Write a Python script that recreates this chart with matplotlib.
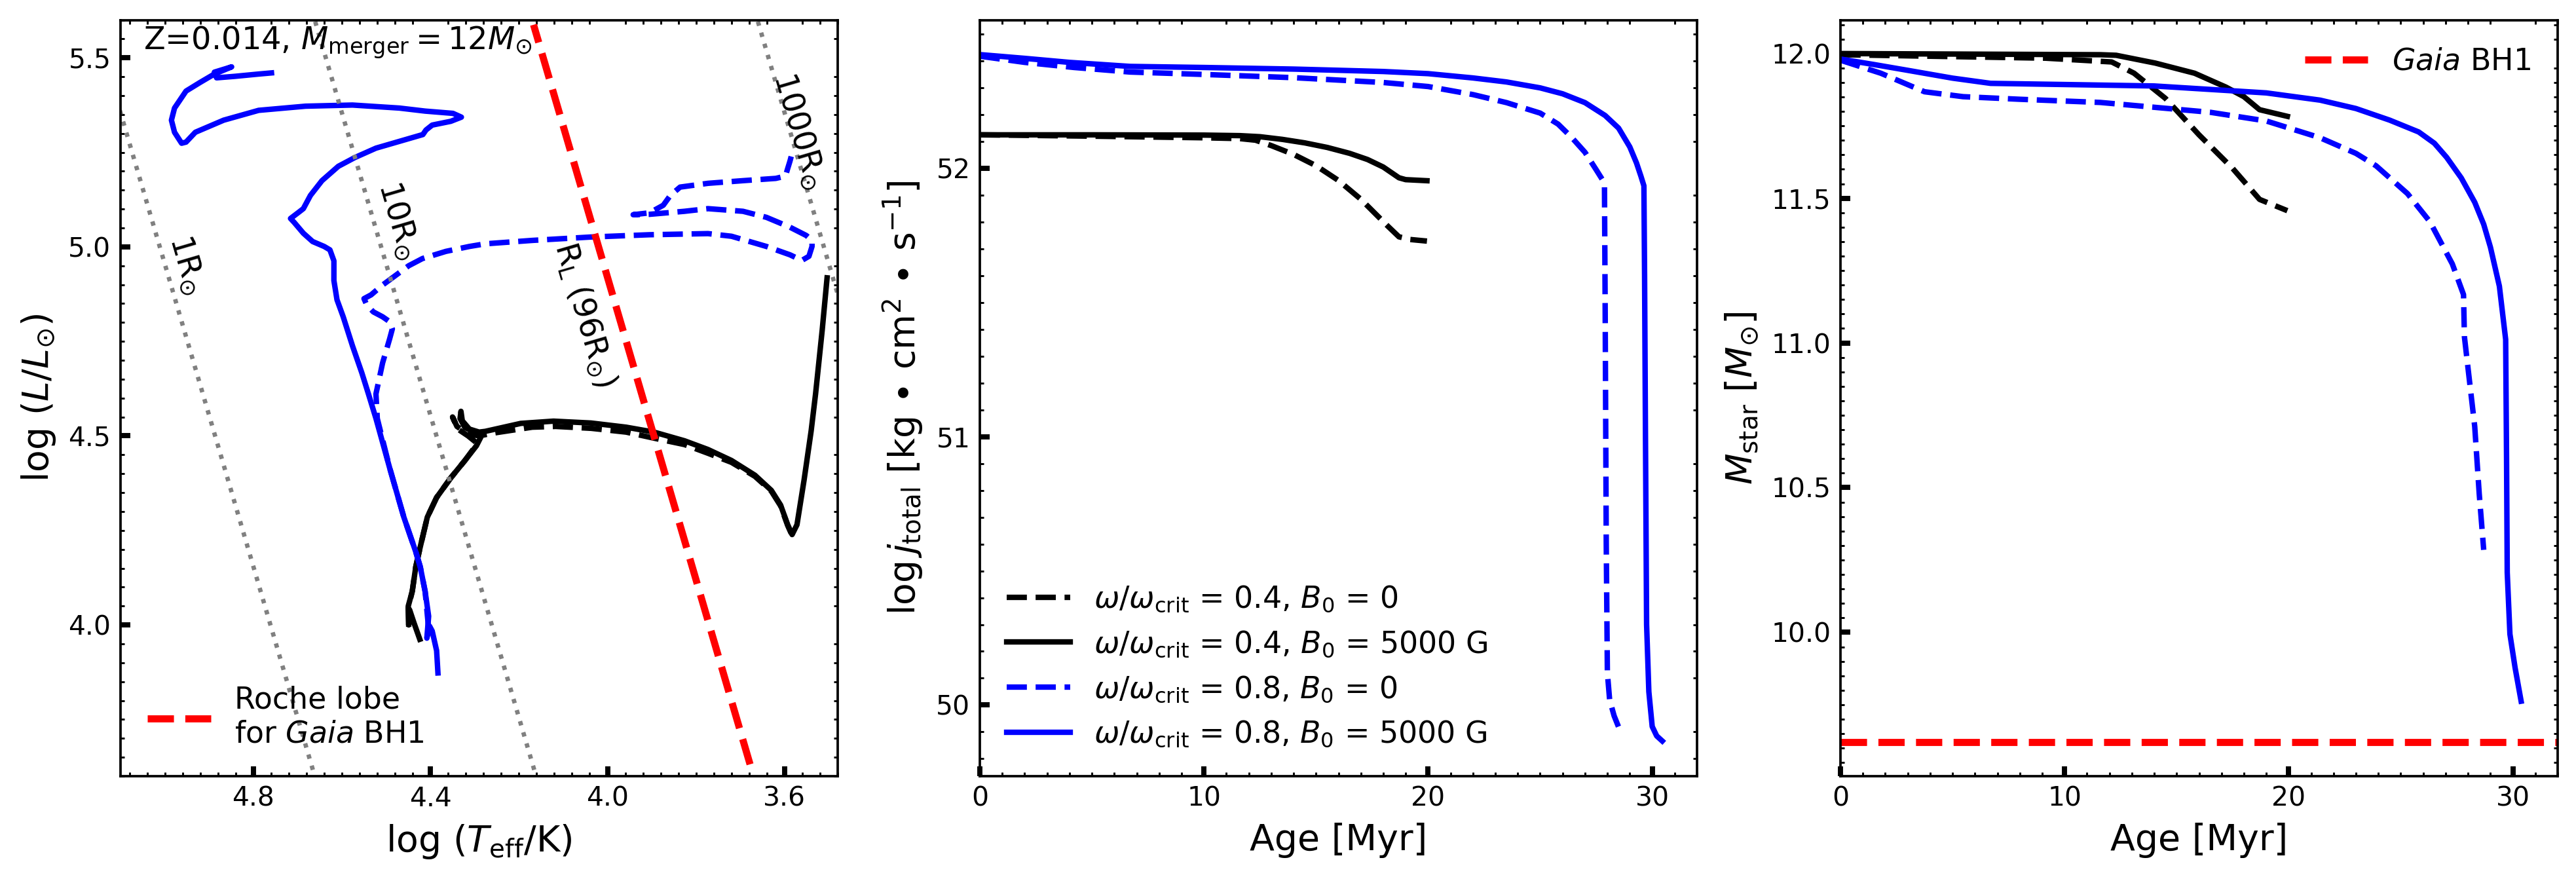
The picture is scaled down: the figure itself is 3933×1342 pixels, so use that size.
import numpy as np
import matplotlib
matplotlib.use("Agg")
import matplotlib.pyplot as plt
from matplotlib.ticker import MultipleLocator, AutoMinorLocator

# ---------------- data ----------------
# HR diagram tracks (log Teff, log L)
hr_w08_b5000_logT = [4.383, 4.386, 4.396, 4.402, 4.408, 4.404, 4.412, 4.423, 4.433, 4.460, 4.492, 4.523,
                     4.540, 4.555, 4.576, 4.597, 4.611, 4.618, 4.618, 4.627, 4.640, 4.666, 4.687, 4.708,
                     4.716, 4.698, 4.687, 4.671, 4.645, 4.608, 4.571, 4.523, 4.470, 4.417, 4.410, 4.396,
                     4.354, 4.330, 4.349, 4.412, 4.470, 4.576, 4.682, 4.788, 4.867, 4.931, 4.952, 4.962,
                     4.978, 4.985, 4.978, 4.952, 4.920, 4.888, 4.849, 4.888, 4.883, 4.841, 4.788, 4.759]
hr_w08_b5000_logL = [3.873, 3.932, 3.984, 3.997, 3.965, 4.023, 4.089, 4.154, 4.193, 4.285, 4.415, 4.546,
                     4.611, 4.667, 4.738, 4.815, 4.860, 4.911, 4.963, 4.992, 5.001, 5.014, 5.036, 5.065,
                     5.075, 5.091, 5.101, 5.136, 5.175, 5.213, 5.236, 5.261, 5.279, 5.297, 5.309, 5.322,
                     5.332, 5.343, 5.353, 5.359, 5.367, 5.375, 5.372, 5.361, 5.335, 5.303, 5.277, 5.274,
                     5.303, 5.335, 5.367, 5.412, 5.435, 5.457, 5.476, 5.462, 5.447, 5.451, 5.457, 5.460]

hr_w08_b0_logT = [4.404, 4.412, 4.423, 4.433, 4.460, 4.492, 4.520, 4.523, 4.508, 4.492, 4.486, 4.492,
                  4.508, 4.529, 4.544, 4.550, 4.534, 4.508, 4.486, 4.449, 4.418, 4.365, 4.312, 4.276,
                  4.170, 4.037, 3.905, 3.773, 3.720, 3.641, 3.588, 3.561, 3.545, 3.538, 3.538, 3.551,
                  3.588, 3.641, 3.694, 3.773, 3.826, 3.905, 3.942, 3.905, 3.874, 3.858, 3.836, 3.773,
                  3.694, 3.620, 3.598, 3.593, 3.588, 3.585]
hr_w08_b0_logL = [3.990, 4.089, 4.154, 4.193, 4.285, 4.415, 4.546, 4.611, 4.693, 4.757, 4.783, 4.802,
                  4.815, 4.828, 4.847, 4.863, 4.873, 4.899, 4.918, 4.950, 4.969, 4.988, 5.001, 5.008,
                  5.017, 5.026, 5.032, 5.035, 5.028, 5.001, 4.979, 4.964, 4.975, 5.001, 5.017, 5.030,
                  5.052, 5.078, 5.094, 5.101, 5.094, 5.086, 5.085, 5.090, 5.110, 5.136, 5.158, 5.168,
                  5.175, 5.181, 5.187, 5.207, 5.226, 5.239]

hr_w04_b5000_logT = [4.424, 4.437, 4.447, 4.449, 4.450, 4.441, 4.433, 4.423, 4.407, 4.386, 4.354, 4.322,
                     4.296, 4.286, 4.300, 4.322, 4.333, 4.331, 4.328, 4.312, 4.290, 4.276, 4.196, 4.122,
                     4.037, 3.958, 3.895, 3.826, 3.773, 3.720, 3.667, 3.630, 3.609, 3.593, 3.583, 3.572,
                     3.556, 3.540, 3.530, 3.515, 3.504]
hr_w04_b5000_logL = [3.962, 4.005, 4.040, 4.000, 4.050, 4.089, 4.154, 4.206, 4.285, 4.337, 4.389, 4.435,
                     4.474, 4.497, 4.510, 4.522, 4.546, 4.565, 4.540, 4.518, 4.510, 4.512, 4.533, 4.539,
                     4.534, 4.523, 4.510, 4.487, 4.464, 4.435, 4.396, 4.356, 4.317, 4.265, 4.239, 4.265,
                     4.383, 4.513, 4.611, 4.780, 4.918]

hr_w04_b0_logT = [4.449, 4.450, 4.441, 4.433, 4.423, 4.407, 4.386, 4.354, 4.322, 4.300, 4.296, 4.315,
                  4.338, 4.350, 4.340, 4.315, 4.290, 4.260, 4.170, 4.117, 4.037, 3.958, 3.895, 3.826,
                  3.773, 3.720, 3.667, 3.630, 3.609, 3.593, 3.585]
hr_w04_b0_logL = [3.995, 4.045, 4.089, 4.154, 4.206, 4.285, 4.337, 4.389, 4.435, 4.470, 4.482, 4.500,
                  4.518, 4.550, 4.525, 4.505, 4.500, 4.507, 4.523, 4.525, 4.520, 4.510, 4.494, 4.477,
                  4.454, 4.430, 4.393, 4.354, 4.315, 4.263, 4.242]

# iso-radius lines (R / Rsun) and Roche lobe radius of Gaia BH1
iso_radii = [1, 10, 1000]
iso_labels = [r"1R$_{\odot}$", r"10R$_{\odot}$", r"1000R$_{\odot}$"]
iso_label_pos = [(4.952, 4.953), (4.473, 5.069), (3.567, 5.306)]
roche_radius = 96
roche_logT_range = [3.678, 4.167]
roche_label_pos = (4.051, 4.821)
log_teff_sun = 3.7613

# Total angular momentum vs age
age_j_w04_b0 = [0, 5, 10, 11.6, 12.3, 13.0, 14.0, 15.0, 16.0, 17.0, 17.6, 18.2, 18.7, 19.2, 19.95]
j_w04_b0 = [52.125, 52.120, 52.114, 52.111, 52.105, 52.085, 52.052, 52.010, 51.955, 51.885, 51.835,
            51.785, 51.745, 51.735, 51.729]
age_j_w04_b5000 = [0, 5, 10, 11.6, 12.5, 13.5, 14.5, 15.5, 16.5, 17.3, 18.0, 18.7, 19.0, 19.95]
j_w04_b5000 = [52.125, 52.125, 52.124, 52.122, 52.118, 52.108, 52.095, 52.078, 52.056, 52.033, 52.005,
               51.965, 51.958, 51.954]
age_j_w08_b0 = [0, 2, 4.2, 6.7, 10, 14, 18, 20, 22, 23.5, 25, 25.8, 26.4, 27.0, 27.5, 27.8, 27.87, 27.9,
                27.95, 28.0, 28.1, 28.3, 28.63]
j_w08_b0 = [52.418, 52.395, 52.376, 52.359, 52.350, 52.338, 52.320, 52.305, 52.275, 52.245, 52.206,
            52.165, 52.116, 52.060, 51.995, 51.955, 51.938, 51.50, 50.60, 50.12, 50.02, 49.960, 49.891]
age_j_w08_b5000 = [0, 2, 4, 6.7, 10, 14, 18, 20, 22, 23.5, 25, 26, 27, 27.9, 28.5, 29.0, 29.3, 29.5,
                   29.63, 29.66, 29.7, 29.75, 29.85, 30.0, 30.2, 30.45]
j_w08_b5000 = [52.424, 52.410, 52.395, 52.380, 52.376, 52.370, 52.361, 52.353, 52.337, 52.322, 52.300,
               52.278, 52.245, 52.197, 52.150, 52.080, 52.020, 51.970, 51.935, 51.60, 51.00, 50.30,
               50.05, 49.920, 49.885, 49.866]

# Stellar mass vs age
age_m_w04_b0 = [0, 9.15, 12.1, 13.1, 14.5, 16.0, 17.5, 18.7, 19.94]
m_w04_b0 = [11.996, 11.984, 11.971, 11.932, 11.845, 11.719, 11.603, 11.496, 11.457]
age_m_w04_b5000 = [0, 11.6, 12.3, 14.05, 15.8, 17.2, 18.0, 18.7, 19.94]
m_w04_b5000 = [12.0, 11.996, 11.994, 11.967, 11.932, 11.884, 11.851, 11.806, 11.783]
age_m_w08_b0 = [0, 1.8, 3.75, 5.47, 8.0, 11.6, 16.5, 19.0, 21.4, 23.0, 23.9, 25.3, 26.3, 27.3, 27.8,
                27.84, 28.3, 28.5, 28.7]
m_w08_b0 = [11.977, 11.932, 11.868, 11.851, 11.842, 11.831, 11.797, 11.767, 11.709, 11.655, 11.612,
            11.516, 11.419, 11.273, 11.167, 11.021, 10.711, 10.479, 10.285]
age_m_w08_b5000 = [0, 1.5, 3.0, 5.0, 6.7, 10, 14.0, 19.0, 21.4, 23.0, 24.5, 25.8, 26.5, 27.05, 27.7,
                   28.3, 28.7, 29.0, 29.4, 29.68, 29.72, 29.75, 29.87, 30.1, 30.37]
m_w08_b5000 = [11.981, 11.962, 11.942, 11.915, 11.897, 11.893, 11.888, 11.864, 11.839, 11.810, 11.770,
               11.729, 11.690, 11.641, 11.570, 11.486, 11.410, 11.331, 11.196, 11.012, 10.600, 10.207,
               9.994, 9.878, 9.762]
gaia_bh1_mass = 9.62

labels = [r"$\omega/\omega_{\rm crit}$ = 0.4, $B_0$ = 0",
          r"$\omega/\omega_{\rm crit}$ = 0.4, $B_0$ = 5000 G",
          r"$\omega/\omega_{\rm crit}$ = 0.8, $B_0$ = 0",
          r"$\omega/\omega_{\rm crit}$ = 0.8, $B_0$ = 5000 G"]

# ---------------- style ----------------
W, H = 3933, 1342
DPI = 300
fig = plt.figure(figsize=(W / DPI, H / DPI), dpi=DPI)

LW = 2.0
LW_RED = 2.6
TICK_FS = 9.8
LABEL_FS = 13.3
LEG_FS = 11.0
TXT_FS = 11.5

def axpos(x0):
    return [x0 / W, (H - 1185) / H, 1095 / W, 1154.5 / H]

def style(ax):
    ax.xaxis.set_minor_locator(AutoMinorLocator(10))
    ax.yaxis.set_minor_locator(AutoMinorLocator(10))
    ax.tick_params(which='major', direction='in', top=False, right=False,
                   length=3.6, width=1.9, labelsize=TICK_FS)
    ax.tick_params(which='minor', direction='in', top=True, right=True, bottom=True, left=True,
                   length=1.5, width=0.7)
    for s in ax.spines.values():
        s.set_linewidth(0.9)

# ---------------- panel 1: HR ----------------
ax1 = fig.add_axes(axpos(184))
ax1.plot(hr_w04_b0_logT, hr_w04_b0_logL, color='black', ls='--', lw=LW)
ax1.plot(hr_w04_b5000_logT, hr_w04_b5000_logL, color='black', ls='-', lw=LW)
ax1.plot(hr_w08_b0_logT, hr_w08_b0_logL, color='blue', ls='--', lw=LW)
ax1.plot(hr_w08_b5000_logT, hr_w08_b5000_logL, color='blue', ls='-', lw=LW)

ax1.set_xlim(5.1, 3.48)
ax1.set_ylim(3.6, 5.6)
ax1.xaxis.set_major_locator(MultipleLocator(0.4))
ax1.yaxis.set_major_locator(MultipleLocator(0.5))
style(ax1)

def iso_logL(r, logT):
    return 2 * np.log10(r) + 4 * (np.asarray(logT) - log_teff_sun)

tgrid = np.array([5.2, 3.4])
for r in iso_radii:
    ax1.plot(tgrid, iso_logL(r, tgrid), color='gray', ls=':', lw=1.6)

rt = np.array(roche_logT_range)
ax1.plot(rt, iso_logL(roche_radius, rt), color='red', ls='--', lw=LW_RED,
         label="Roche lobe\nfor $Gaia$ BH1")

p1 = ax1.transData.transform((4.8, iso_logL(1, 4.8)))
p2 = ax1.transData.transform((4.4, iso_logL(1, 4.4)))
ang = np.degrees(np.arctan2(p2[1] - p1[1], p2[0] - p1[0]))
for lab, (tx, ty) in zip(iso_labels, iso_label_pos):
    ax1.text(tx, ty, lab, rotation=ang, rotation_mode='anchor', ha='center', va='center',
             fontsize=TXT_FS)
ax1.text(roche_label_pos[0], roche_label_pos[1], r"R$_{\rm L}$ (96R$_{\odot}$)", rotation=ang,
         rotation_mode='anchor', ha='center', va='center', fontsize=TXT_FS)

ax1.text(0.032, 0.961, r"Z=0.014, $M_{\rm merger}=12M_{\odot}$", transform=ax1.transAxes,
         ha='left', va='baseline', fontsize=TXT_FS)
ax1.legend(loc='lower left', frameon=False, fontsize=LEG_FS, handlelength=2.1)
ax1.set_xlabel(r"$\log\,(T_{\rm eff}/{\rm K})$", fontsize=LABEL_FS)
ax1.set_ylabel(r"$\log\,(L/L_{\odot})$", fontsize=LABEL_FS)

# ---------------- panel 2: angular momentum ----------------
ax2 = fig.add_axes(axpos(1496))
ax2.plot(age_j_w04_b0, j_w04_b0, color='black', ls='--', lw=LW, label=labels[0])
ax2.plot(age_j_w04_b5000, j_w04_b5000, color='black', ls='-', lw=LW, label=labels[1])
ax2.plot(age_j_w08_b0, j_w08_b0, color='blue', ls='--', lw=LW, label=labels[2])
ax2.plot(age_j_w08_b5000, j_w08_b5000, color='blue', ls='-', lw=LW, label=labels[3])
ax2.set_xlim(0, 32)
ax2.set_ylim(49.735, 52.553)
ax2.xaxis.set_major_locator(MultipleLocator(10))
ax2.yaxis.set_major_locator(MultipleLocator(1))
style(ax2)
ax2.legend(loc='lower left', frameon=False, fontsize=LEG_FS, handlelength=2.1)
ax2.set_xlabel("Age [Myr]", fontsize=LABEL_FS)
ax2.set_ylabel(r"$\log j_{\rm total}$ [kg $\bullet$ cm$^2$ $\bullet$ s$^{-1}$]", fontsize=LABEL_FS)

# ---------------- panel 3: mass ----------------
ax3 = fig.add_axes(axpos(2810))
ax3.plot(age_m_w04_b0, m_w04_b0, color='black', ls='--', lw=LW)
ax3.plot(age_m_w04_b5000, m_w04_b5000, color='black', ls='-', lw=LW)
ax3.plot(age_m_w08_b0, m_w08_b0, color='blue', ls='--', lw=LW)
ax3.plot(age_m_w08_b5000, m_w08_b5000, color='blue', ls='-', lw=LW)
ax3.axhline(gaia_bh1_mass, color='red', ls='--', lw=LW_RED, label=r"$Gaia$ BH1")
ax3.set_xlim(0, 32)
ax3.set_ylim(9.503, 12.116)
ax3.xaxis.set_major_locator(MultipleLocator(10))
ax3.yaxis.set_major_locator(MultipleLocator(0.5))
style(ax3)
ax3.legend(loc='upper right', frameon=False, fontsize=LEG_FS, handlelength=2.1)
ax3.set_xlabel("Age [Myr]", fontsize=LABEL_FS)
ax3.set_ylabel(r"$M_{\rm star}$ [$M_{\odot}$]", fontsize=LABEL_FS)

fig.savefig("out.png", dpi=DPI)
